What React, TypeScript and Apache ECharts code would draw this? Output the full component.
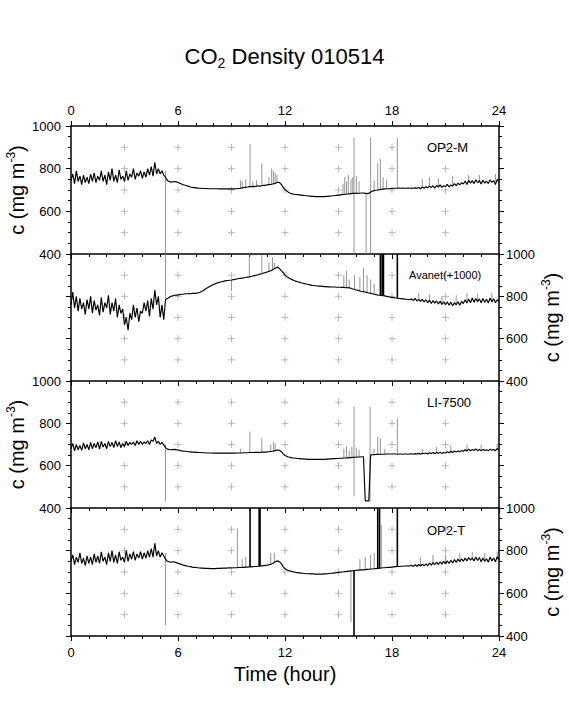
import React, { useEffect, useRef } from "react";
import * as echarts from "echarts";

// ---- data (step 0.1 hour, 0..24) ----
const STEP = 0.1;

const op2mValues = [
  745, 775, 730, 790, 740, 765, 725, 770, 735, 760,
  730, 775, 740, 780, 735, 765, 745, 790, 740, 770,
  725, 785, 745, 800, 740, 770, 735, 795, 750, 765,
  740, 790, 745, 775, 760, 800, 750, 780, 765, 790,
  755, 785, 760, 800, 770, 810, 765, 830, 775, 800,
  775, 790, 770, 760, 745, 740, 737, 738, 740, 738,
  735, 732, 728, 725, 722, 720, 717, 714, 712, 711,
  710, 709, 708, 708, 707, 707, 707, 706, 706, 706,
  706, 706, 706, 705, 705, 705, 705, 705, 705, 705,
  705, 705, 706, 706, 707, 708, 710, 712, 713, 714,
  716, 716, 717, 716, 718, 720, 718, 720, 722, 722,
  724, 725, 726, 728, 730, 733, 736, 735, 725, 712,
  702, 695, 689, 685, 682, 680, 679, 678, 677, 676,
  675, 674, 673, 672, 671, 670, 670, 669, 669, 669,
  669, 669, 669, 670, 670, 671, 672, 673, 674, 675,
  676, 677, 678, 679, 680, 681, 682, 683, 684, 684,
  684, 685, 685, 686, 686, 684, 683, 684, 690, 695,
  697, 699, 700, 702, 703, 704, 705, 706, 706, 707,
  707, 708, 708, 708, 709, 708, 709, 708, 708, 709,
  708, 709, 708, 710, 708, 712, 706, 714, 708, 716,
  710, 718, 712, 720, 708, 722, 714, 724, 712, 720,
  716, 726, 714, 724, 718, 730, 720, 732, 724, 734,
  728, 742, 726, 746, 732, 744, 730, 748, 734, 744,
  728, 746, 732, 742, 730, 748, 736, 744, 726, 750,
  735,
];

const avanetValues = [
  760, 820, 745, 800, 730, 790, 740, 770, 715, 785,
  740, 800, 720, 780, 735, 760, 710, 795, 725, 770,
  745, 805, 715, 770, 730, 790, 700, 760, 720, 740,
  665, 700, 640, 720, 690, 760, 700, 745, 680, 730,
  720, 770, 730, 780, 705, 790, 740, 830, 760, 800,
  700, 760, 690, 785, 790, 795, 800, 802, 805, 806,
  806, 808, 810, 810, 812, 812, 813, 812, 814, 814,
  814, 816, 818, 822, 826, 832, 838, 843, 848, 852,
  856, 860, 863, 866, 868, 870, 872, 874, 875, 876,
  877, 879, 880, 882, 884, 885, 886, 888, 889, 891,
  892, 894, 896, 898, 900, 902, 905, 907, 910, 912,
  915, 918, 921, 925, 930, 935, 938, 930, 922, 912,
  900, 893, 888, 883, 879, 875, 872, 869, 867, 864,
  862, 860, 858, 856, 854, 852, 851, 850, 849, 848,
  848, 847, 846, 846, 845, 845, 844, 844, 844, 843,
  843, 843, 842, 842, 841, 841, 840, 838, 835, 832,
  830, 828, 825, 823, 822, 820, 818, 816, 814, 812,
  810, 808, 806, 805, 804, 803, 802, 800, 798, 796,
  795, 794, 792, 791, 790, 789, 788, 787, 786, 785,
  784, 788, 780, 790, 778, 786, 776, 786, 774, 784,
  770, 782, 766, 780, 768, 778, 764, 776, 762, 774,
  760, 774, 758, 772, 756, 770, 760, 774, 758, 776,
  766, 784, 768, 788, 770, 792, 772, 790, 774, 788,
  770, 790, 772, 786, 768, 792, 774, 788, 770, 784,
  775,
];

const li7500Values = [
  680, 705, 670, 700, 675, 695, 672, 708, 680, 700,
  675, 710, 680, 705, 685, 712, 678, 715, 688, 705,
  680, 715, 690, 710, 685, 718, 690, 712, 685, 705,
  690, 715, 695, 710, 700, 712, 695, 718, 700, 715,
  700, 712, 705, 718, 700, 722, 715, 735, 705, 715,
  700, 710, 698, 685, 678, 676, 675, 676, 677, 676,
  674, 672, 670, 669, 668, 667, 666, 665, 664, 664,
  663, 663, 662, 662, 661, 661, 660, 660, 660, 660,
  659, 659, 659, 659, 659, 659, 659, 659, 659, 659,
  659, 659, 659, 660, 660, 660, 660, 661, 661, 661,
  662, 662, 662, 663, 663, 663, 662, 664, 664, 664,
  665, 666, 667, 668, 670, 672, 674, 672, 666, 656,
  648, 644, 641, 639, 637, 636, 635, 634, 633, 632,
  632, 631, 631, 630, 630, 630, 630, 630, 630, 630,
  630, 630, 630, 631, 631, 632, 632, 633, 633, 634,
  634, 635, 635, 636, 636, 637, 638, 638, 639, 640,
  640, 641, 641, 642, 642, 434, 434, 434, 650, 652,
  652, 653, 653, 654, 654, 654, 654, 655, 655, 655,
  655, 655, 655, 654, 655, 655, 654, 655, 655, 654,
  655, 656, 654, 657, 655, 658, 654, 659, 656, 660,
  655, 661, 657, 662, 656, 663, 658, 664, 657, 662,
  660, 666, 661, 668, 662, 669, 664, 670, 665, 672,
  668, 675, 669, 678, 670, 676, 672, 679, 671, 676,
  670, 677, 672, 675, 670, 678, 673, 676, 671, 680,
  675,
];

const op2tValues = [
  750, 780, 735, 770, 745, 790, 740, 765, 730, 775,
  740, 770, 735, 785, 745, 775, 740, 795, 750, 770,
  735, 790, 750, 800, 745, 780, 740, 795, 755, 770,
  745, 800, 750, 785, 760, 795, 755, 785, 765, 795,
  760, 790, 765, 800, 770, 810, 770, 835, 775, 800,
  770, 790, 775, 760, 750, 748, 746, 748, 747, 744,
  741, 738, 735, 732, 730, 728, 726, 725, 723, 722,
  721, 720, 719, 718, 718, 717, 717, 717, 716, 716,
  716, 716, 717, 717, 717, 718, 718, 718, 719, 719,
  719, 720, 720, 720, 721, 721, 722, 722, 723, 723,
  724, 724, 725, 726, 726, 727, 728, 729, 730, 731,
  732, 734, 736, 740, 745, 750, 752, 748, 738, 725,
  715, 710, 707, 704, 702, 700, 698, 697, 696, 695,
  694, 693, 692, 692, 691, 691, 691, 690, 690, 690,
  690, 690, 691, 691, 692, 693, 694, 695, 696, 697,
  698, 699, 700, 701, 702, 703, 704, 705, 706, 707,
  708, 709, 709, 710, 710, 711, 712, 713, 714, 714,
  715, 716, 717, 718, 719, 720, 720, 721, 722, 722,
  723, 724, 725, 726, 726, 727, 727, 728, 728, 729,
  728, 732, 726, 734, 727, 735, 728, 736, 729, 738,
  730, 742, 732, 744, 734, 746, 735, 748, 737, 750,
  738, 752, 740, 755, 742, 758, 745, 760, 748, 762,
  750, 765, 752, 768, 755, 766, 752, 770, 754, 768,
  748, 766, 750, 762, 746, 770, 752, 766, 748, 772,
  755,
];

// spikes: [hour, from, to]
const op2mSpikes = [
  [5.3, 790, 400], [9.5, 705, 745], [9.6, 705, 740], [9.8, 706, 750], [10.04, 716, 915],
  [10.2, 716, 740], [10.4, 718, 745], [10.7, 720, 825], [11.1, 725, 760], [11.25, 728, 800],
  [11.35, 730, 790], [11.45, 732, 780], [11.55, 735, 770], [15.25, 680, 730], [15.35, 681, 760],
  [15.45, 682, 740], [15.55, 683, 770], [15.7, 684, 750], [15.8, 684, 760], [16.0, 684, 765],
  [16.15, 685, 740], [15.87, 945, 400], [16.55, 690, 400], [16.8, 945, 400], [17.0, 699, 745],
  [17.2, 700, 825], [17.35, 703, 845], [17.5, 704, 760], [17.7, 706, 750], [18.3, 708, 945],
  [19.7, 710, 750], [20.1, 715, 760], [20.6, 715, 755], [21.4, 725, 765], [22.3, 735, 770],
  [22.9, 735, 770], [23.8, 740, 775],
];
const op2mBars = [];

const avanetSpikes = [
  [5.3, 790, 1000], [9.0, 877, 825], [10.0, 892, 1000], [10.7, 907, 995], [11.1, 918, 960],
  [11.3, 925, 985], [11.4, 930, 960], [15.3, 842, 900], [15.45, 841, 920], [15.6, 840, 880],
  [15.9, 833, 900], [16.2, 825, 890], [16.4, 822, 935], [16.6, 818, 900], [16.8, 814, 880],
  [17.0, 810, 860], [19.5, 785, 815], [20.1, 780, 810], [20.8, 770, 800], [21.6, 768, 805],
  [22.2, 775, 815], [22.8, 778, 812], [23.6, 780, 815],
];
const avanetBars = [[17.35, 805, 1000], [17.45, 804, 1000], [17.52, 803, 1000], [18.3, 792, 1000]];

const li7500Spikes = [
  [5.3, 700, 430], [9.5, 660, 680], [10.03, 663, 761], [10.7, 664, 729], [11.2, 667, 700],
  [11.35, 670, 713], [11.45, 672, 705], [15.3, 636, 680], [15.45, 637, 690], [15.6, 638, 670],
  [15.75, 639, 690], [16.0, 640, 685], [16.15, 641, 675], [15.87, 879, 456], [16.77, 879, 428],
  [17.0, 652, 680], [17.2, 654, 737], [17.35, 654, 729], [17.6, 655, 680], [18.3, 655, 824],
  [19.7, 657, 680], [20.5, 660, 690], [21.3, 665, 695], [22.2, 672, 700], [23.0, 672, 700],
  [23.9, 676, 705],
];
const li7500Bars = [];

const op2tSpikes = [
  [5.3, 790, 450], [9.33, 720, 905], [9.6, 721, 760], [9.8, 723, 770], [11.2, 734, 789],
  [11.4, 745, 790], [15.7, 705, 466], [16.2, 709, 760], [16.5, 711, 770], [16.8, 714, 780],
  [17.0, 715, 790], [17.4, 718, 920], [19.6, 730, 770], [20.3, 735, 780], [21.0, 740, 780],
  [21.8, 750, 790], [22.5, 755, 795], [23.2, 755, 790], [23.9, 760, 795],
];
const op2tBars = [
  [10.04, 724, 1000], [10.55, 727, 1000], [10.6, 727, 1000], [15.87, 707, 400],
  [17.2, 716, 1000], [17.3, 717, 1000], [18.3, 725, 1000],
];

const panelNames = ["OP2-M", "Avanet(+1000)", "LI-7500", "OP2-T"];
const xTickLabels = ["0", "6", "12", "18", "24"];
const yTickLabels = ["400", "600", "800", "1000"];
const crossHours = [3, 6, 9, 12, 15, 18, 21];
const crossLevels = [500, 600, 700, 800, 900];

const FONT = "'Liberation Sans', Arial, Helvetica, sans-serif";

const panels = [
  { values: op2mValues, spikes: op2mSpikes, bars: op2mBars },
  { values: avanetValues, spikes: avanetSpikes, bars: avanetBars },
  { values: li7500Values, spikes: li7500Spikes, bars: li7500Bars },
  { values: op2tValues, spikes: op2tSpikes, bars: op2tBars },
];

const gridTops = [126, 254, 381, 508];
const gridHeights = [128, 127, 127, 128];
const labelTops = [148, 275, 403, 531];
const labelLefts = [427, 409, 427, 427];

function segSeries(data: number[][], xi: number, yi: number, color: string, width: number) {
  return {
    type: "custom",
    coordinateSystem: "cartesian2d",
    xAxisIndex: xi,
    yAxisIndex: yi,
    data,
    encode: { x: 0, y: [1, 2] },
    silent: true,
    clip: true,
    z: 3,
    renderItem: (_p: any, api: any) => {
      const a = api.coord([api.value(0), api.value(1)]);
      const b = api.coord([api.value(0), api.value(2)]);
      return {
        type: "line",
        shape: { x1: a[0], y1: a[1], x2: b[0], y2: b[1] },
        style: { stroke: color, lineWidth: width },
      };
    },
  };
}

function crossSeries(xi: number, yi: number) {
  const data: number[][] = [];
  crossHours.forEach((h) => crossLevels.forEach((v) => data.push([h, v])));
  return {
    type: "custom",
    coordinateSystem: "cartesian2d",
    xAxisIndex: xi,
    yAxisIndex: yi,
    data,
    silent: true,
    z: 1,
    renderItem: (_p: any, api: any) => {
      const c = api.coord([api.value(0), api.value(1)]);
      const s = 3.5;
      const st = { stroke: "#a8a8a8", lineWidth: 0.8 };
      return {
        type: "group",
        children: [
          { type: "line", shape: { x1: c[0] - s, y1: c[1], x2: c[0] + s, y2: c[1] }, style: st },
          { type: "line", shape: { x1: c[0], y1: c[1] - s, x2: c[0], y2: c[1] + s }, style: st },
        ],
      };
    },
  };
}

const yName = "{a|c (mg m}{s|-3}{a|)}";
const nameRich = {
  a: { fontSize: 20, fontFamily: FONT, color: "#000", lineHeight: 24 },
  s: { fontSize: 12, fontFamily: FONT, color: "#000", lineHeight: 12, verticalAlign: "top" },
};

export default function App() {
  const ref = useRef<HTMLDivElement>(null);
  useEffect(() => {
    if (!ref.current) return;
    const chart = echarts.init(ref.current, undefined, { renderer: "svg" });

    const axisLine = { show: true, onZero: false, lineStyle: { color: "#000", width: 1.5 } };
    const tick = { show: true, inside: false, length: 5, lineStyle: { color: "#000", width: 1 } };
    const labelStyle = { color: "#000", fontSize: 13, fontFamily: FONT };

    const grids = gridTops.map((t, i) => ({
      left: 71,
      width: 428,
      top: t,
      height: gridHeights[i],
      outerBoundsMode: "none",
    }));

    const xAxes: any[] = gridTops.map((_t, i) => ({
      type: "value",
      gridIndex: i,
      min: 0,
      max: 24,
      interval: 6,
      position: "bottom",
      axisLine,
      axisTick: tick,
      minorTick: { show: true, splitNumber: 6, length: 3, lineStyle: { color: "#000", width: 1 } },
      splitLine: { show: false },
      axisLabel: {
        show: i === 3,
        margin: 10,
        ...labelStyle,
        formatter: (v: number) => xTickLabels[v / 6] ?? String(v),
      },
      name: i === 3 ? "Time (hour)" : "",
      nameLocation: "middle",
      nameGap: 28,
      nameMoveOverlap: false,
      nameTextStyle: { fontSize: 20, fontFamily: FONT, color: "#000" },
    }));
    xAxes.push({
      type: "value",
      gridIndex: 0,
      min: 0,
      max: 24,
      interval: 6,
      position: "top",
      axisLine,
      axisTick: tick,
      minorTick: { show: true, splitNumber: 6, length: 3, lineStyle: { color: "#000", width: 1 } },
      splitLine: { show: false },
      axisLabel: {
        show: true,
        margin: 9,
        ...labelStyle,
        formatter: (v: number) => xTickLabels[v / 6] ?? String(v),
      },
    });

    const yAxes: any[] = [];
    gridTops.forEach((_t, i) => {
      ["left", "right"].forEach((pos) => {
        const labeled = (pos === "left") === (i % 2 === 0);
        yAxes.push({
          type: "value",
          gridIndex: i,
          position: pos,
          min: 400,
          max: 1000,
          interval: 200,
          axisLine,
          axisTick: tick,
          minorTick: { show: true, splitNumber: 4, length: 3, lineStyle: { color: "#000", width: 1 } },
          splitLine: { show: false },
          axisLabel: {
            show: labeled,
            margin: pos === "left" ? 10 : 7,
            ...labelStyle,
            formatter: (v: number) => yTickLabels[(v - 400) / 200] ?? String(v),
          },
          name: labeled ? yName : "",
          nameLocation: "middle",
          nameRotate: 90,
          nameGap: pos === "left" ? 42 : 41,
          nameMoveOverlap: false,
          nameTextStyle: { rich: nameRich, fontSize: 20, fontFamily: FONT, color: "#000" },
        });
      });
    });

    const series: any[] = [];
    panels.forEach((p, i) => {
      const yi = i % 2 === 0 ? 2 * i : 2 * i + 1;
      series.push(crossSeries(i, yi));
      series.push(segSeries(p.spikes, i, yi, "#7a7a7a", 0.8));
      series.push({
        type: "line",
        xAxisIndex: i,
        yAxisIndex: yi,
        data: p.values.map((v, k) => [+(k * STEP).toFixed(1), v]),
        showSymbol: false,
        symbol: "none",
        lineStyle: { color: "#000", width: 1.15 },
        silent: true,
        z: 4,
      });
      if (p.bars.length) series.push(segSeries(p.bars, i, yi, "#000", 1.6));
    });

    const graphic = panelNames.map((n, i) => ({
      type: "text",
      left: labelLefts[i],
      top: labelTops[i] - (i === 1 ? 6 : 7),
      style: {
        text: n,
        fontSize: i === 1 ? 11 : 13,
        fontFamily: FONT,
        fill: "#000",
      },
      z: 10,
    }));

    chart.setOption({
      animation: false,
      backgroundColor: "#fff",
      title: {
        text: "{a|CO}{s|2}{a| Density 010514}",
        left: "center",
        top: 37,
        textStyle: {
          fontSize: 22,
          fontWeight: "normal",
          fontFamily: FONT,
          color: "#000",
          rich: {
            a: { fontSize: 22, fontFamily: FONT, color: "#000", lineHeight: 28 },
            s: { fontSize: 14, fontFamily: FONT, color: "#000", lineHeight: 14, verticalAlign: "bottom" },
          },
        },
      },
      grid: grids,
      xAxis: xAxes,
      yAxis: yAxes,
      series,
      graphic,
    });
    return () => chart.dispose();
  }, []);
  return (
    <div
      ref={ref}
      style={{ position: "absolute", left: 0, top: 0, width: 569, height: 709, background: "#fff" }}
    />
  );
}
